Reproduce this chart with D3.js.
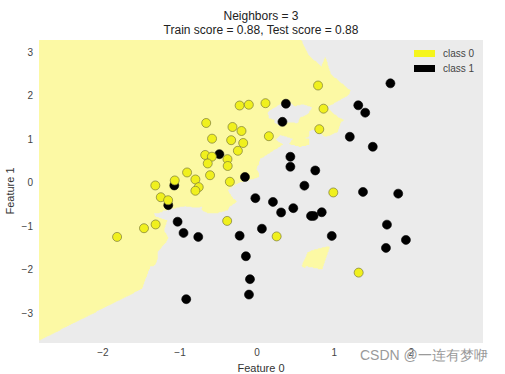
<!DOCTYPE html>
<html>
<head>
<meta charset="utf-8">
<script src="https://cdn.jsdelivr.net/npm/d3@7"></script>
<style>
  body { margin: 0; background: #fff; }
  text { font-family: "Liberation Sans", Arial, sans-serif; }
</style>
</head>
<body>
<svg id="chart" width="505" height="374"></svg>
<script>
// class 0 (yellow) points, [feature0, feature1]
const class0 = [
  [-0.227, 1.793], [-0.108, 1.811], [0.108, 1.846], [-0.661, 1.391], [-0.320, 1.299],
  [-0.203, 1.207], [0.152, 1.087], [-0.585, 1.030], [-0.337, 0.995], [-0.181, 0.931],
  [-0.250, 0.752], [-0.674, 0.655], [-0.587, 0.616], [-0.385, 0.559], [-0.641, 0.460],
  [-0.382, 0.402], [-0.909, 0.253], [-0.611, 0.189], [-0.801, 0.092], [-1.069, 0.069],
  [-0.354, 0.039], [-1.321, -0.046], [-0.758, -0.085], [-0.801, -0.168], [-1.250, -0.317],
  [-1.155, -0.386], [-1.317, -0.943], [-1.468, -1.030], [-1.817, -1.230], [-0.389, -0.862],
  [0.253, -1.218], [0.790, 2.253], [0.861, 1.720], [0.806, 1.248], [0.988, -0.207],
  [1.317, -2.051]
]
// class 1 (black) points
const class1 = [
  [-0.490, 0.674], [-0.158, 0.149], [-1.075, -0.046], [-1.153, -0.499], [-0.023, -0.338],
  [0.205, -0.425], [0.469, -0.568], [0.311, -0.667], [0.838, -0.662], [0.699, -0.747],
  [0.732, -0.747], [-1.032, -0.880], [-0.955, -1.138], [-0.764, -1.230], [-0.227, -1.202],
  [0.062, -1.041], [-0.146, -1.674], [-0.093, -2.202], [-0.106, -2.556], [-0.920, -2.662],
  [0.373, 1.834], [0.328, 1.418], [0.431, 0.614], [0.431, 0.384], [0.754, 0.299],
  [0.613, -0.051], [1.729, 2.303], [1.312, 1.798], [1.402, 1.628], [1.202, 1.074],
  [1.500, 0.844], [1.373, -0.195], [1.830, -0.234], [1.684, -0.947], [1.930, -1.299],
  [1.671, -1.483], [0.968, -1.207]
]
const xTicks = [-2, -1, 0, 1, 2]
const yTicks = [-3, -2, -1, 0, 1, 2, 3]
const legendLabels = ["class 0", "class 1"]
const nNeighbors = 3

const svg = d3.select("#chart")
const pL = 39, pR = 483, pT = 40, pB = 343
const xDom = [-2.83, 2.93], yDom = [-3.67, 3.30]

const x = d3.scaleLinear().domain(xDom).range([pL, pR])
const y = d3.scaleLinear().domain(yDom).range([pB, pT])

svg.append("defs").append("clipPath").attr("id", "plot")
  .append("rect").attr("x", pL).attr("y", pT)
  .attr("width", pR - pL).attr("height", pB - pT)

// background of the axes: class 1 region
svg.append("rect")
  .attr("x", pL).attr("y", pT)
  .attr("width", pR - pL).attr("height", pB - pT)
  .attr("fill", "#ebebeb")

// knn decision function on a grid
const train = class0.map(p => [p[0], p[1], 0]).concat(class1.map(p => [p[0], p[1], 1]))
const nx = 460, ny = 320
const votes = new Float64Array(nx * ny)
for (let j = 0; j < ny; j++) {
  const gy = yDom[1] - (j + 0.5) / ny * (yDom[1] - yDom[0])
  for (let i = 0; i < nx; i++) {
    const gx = xDom[0] + (i + 0.5) / nx * (xDom[1] - xDom[0])
    const d = train.map(p => [(p[0] - gx) ** 2 + (p[1] - gy) ** 2, p[2]])
    d.sort((a, b) => a[0] - b[0])
    let c0 = 0
    for (let k = 0; k < nNeighbors; k++) if (d[k][1] === 0) c0++
    votes[i + j * nx] = c0
  }
}

const contours = d3.contours().size([nx, ny]).thresholds([1.5])(votes)
const proj = d3.geoTransform({
  point(gx, gy) {
    this.stream.point(
      x(xDom[0] + gx / nx * (xDom[1] - xDom[0])),
      y(yDom[1] - gy / ny * (yDom[1] - yDom[0]))
    )
  }
})
svg.append("g").attr("clip-path", "url(#plot)")
  .selectAll("path").data(contours).join("path")
    .attr("d", d3.geoPath(proj))
    .attr("fill", "#fcf9a4")

// points
const pts = svg.append("g")
pts.selectAll(".c1").data(class1).join("circle")
    .attr("class", "c1")
    .attr("cx", d => x(d[0])).attr("cy", d => y(d[1]))
    .attr("r", 4.5)
    .attr("fill", "#000").attr("stroke", "#000").attr("stroke-width", 0.6)
pts.selectAll(".c0").data(class0).join("circle")
    .attr("class", "c0")
    .attr("cx", d => x(d[0])).attr("cy", d => y(d[1]))
    .attr("r", 4.5)
    .attr("fill", "#f0f01e").attr("stroke", "#7a7a3a").attr("stroke-width", 0.7)

// axes, no spines and no tick marks
svg.append("g").selectAll("text").data(xTicks).join("text")
    .attr("x", d => x(d)).attr("y", 353)
    .attr("text-anchor", "middle").attr("dominant-baseline", "middle")
    .attr("font-size", 10).attr("fill", "#444")
    .text(d => d < 0 ? "\u2212" + Math.abs(d) : d)
svg.append("g").selectAll("text").data(yTicks).join("text")
    .attr("x", 33).attr("y", d => y(d))
    .attr("text-anchor", "end").attr("dominant-baseline", "middle")
    .attr("font-size", 10).attr("fill", "#444")
    .text(d => d < 0 ? "\u2212" + Math.abs(d) : d)

svg.append("text")
  .attr("x", 261).attr("y", 369)
  .attr("text-anchor", "middle").attr("dominant-baseline", "middle")
  .attr("font-size", 11).attr("fill", "#333")
  .text("Feature 0")
svg.append("text")
  .attr("transform", "translate(11,191) rotate(-90)")
  .attr("text-anchor", "middle").attr("dominant-baseline", "middle")
  .attr("font-size", 11).attr("fill", "#333")
  .text("Feature 1")

// title
svg.append("text")
  .attr("x", 261).attr("y", 17)
  .attr("text-anchor", "middle").attr("dominant-baseline", "middle")
  .attr("font-size", 12).attr("fill", "#222")
  .text("Neighbors = " + nNeighbors)
svg.append("text")
  .attr("x", 261).attr("y", 31)
  .attr("text-anchor", "middle").attr("dominant-baseline", "middle")
  .attr("font-size", 12).attr("fill", "#222")
  .text("Train score = 0.88, Test score = 0.88")

// legend
const legendColors = ["#f5f51c", "#000"]
const lg = svg.append("g").selectAll("g").data(legendLabels).join("g")
  .attr("transform", (d, i) => `translate(414,${50 + i * 15})`)
lg.append("rect").attr("width", 21).attr("height", 7)
  .attr("fill", (d, i) => legendColors[i])
lg.append("text").attr("x", 29).attr("y", 4)
  .attr("dominant-baseline", "middle")
  .attr("font-size", 10).attr("fill", "#444")
  .text(d => d)

// watermark
svg.append("text")
  .attr("x", 360).attr("y", 356)
  .attr("dominant-baseline", "middle")
  .attr("font-family", "'Noto Sans CJK SC', 'Noto Sans', sans-serif")
  .attr("font-size", 14).attr("fill", "#9a9a9a")
  .text("CSDN @一连有梦咿")
</script>
</body>
</html>
